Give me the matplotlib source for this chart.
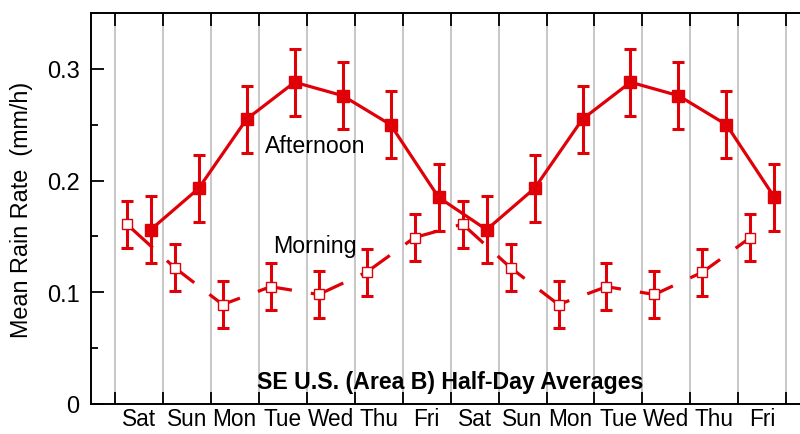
import numpy as np
import matplotlib.pyplot as plt
from matplotlib.ticker import MultipleLocator, FixedLocator

plt.rcParams['font.family'] = ['Liberation Sans', 'DejaVu Sans']

days = ["Sat", "Sun", "Mon", "Tue", "Wed", "Thu", "Fri"]

# half-day means, one week (shown twice)
morning = [0.161, 0.122, 0.089, 0.105, 0.098, 0.118, 0.149]
afternoon = [0.156, 0.193, 0.255, 0.288, 0.276, 0.250, 0.185]
morning_err = [0.021, 0.021, 0.021, 0.021, 0.021, 0.021, 0.021]
afternoon_err = [0.030, 0.030, 0.030, 0.030, 0.030, 0.030, 0.030]

red = '#e00008'
nweeks = 2
ndays = len(days) * nweeks

am = np.tile(morning, nweeks)
pm = np.tile(afternoon, nweeks)
am_err = np.tile(morning_err, nweeks)
pm_err = np.tile(afternoon_err, nweeks)
x_am = np.arange(ndays) + 0.25
x_pm = np.arange(ndays) + 0.75

fig = plt.figure(figsize=(8, 4.35), dpi=100)
ax = fig.add_axes([0.1134, 0.069, 0.8996, 0.8989])

for i in range(ndays + 1):
    ax.axvline(i, color='#b8b8b8', lw=1.1, zorder=0)

# lines
ax.plot(x_pm, pm, color=red, lw=2.3, zorder=2)
ax.plot(x_am, am, color=red, lw=2.3, dashes=(11, 6), zorder=2)

# error bars
ax.errorbar(x_pm, pm, yerr=pm_err, fmt='none', ecolor=red, elinewidth=2.2,
            capsize=4, capthick=2.2, zorder=3)
ax.errorbar(x_am, am, yerr=am_err, fmt='none', ecolor=red, elinewidth=2.2,
            capsize=4, capthick=2.2, zorder=3)

# markers
ax.plot(x_pm, pm, 's', color=red, ms=8, zorder=4)
ax.plot(x_am, am, 's', mfc='white', mec=red, mew=1.0, ms=7, zorder=4)

ax.text(4.17, 0.231, "Afternoon", fontsize=16.7, ha='center', va='center')
ax.text(4.18, 0.1415, "Morning", fontsize=16.7, ha='center', va='center')
ax.text(7.0, 0.02, "SE U.S. (Area B) Half-Day Averages", fontsize=16.7,
        fontweight='bold', ha='center', va='center')

ax.set_xlim(-0.5, ndays + 0.5)
ax.set_ylim(0, 0.35)

ax.xaxis.set_major_locator(FixedLocator(range(ndays + 1)))
ax.xaxis.set_minor_locator(FixedLocator(np.arange(ndays) + 0.5))
ax.set_xticklabels([])
ax.set_xticklabels(days * nweeks, minor=True)
ax.tick_params(axis='x', which='major', direction='in', length=9, width=1.3,
               top=True, bottom=True)
ax.tick_params(axis='x', which='minor', length=0, pad=2.5, labelsize=16.3)

ax.yaxis.set_major_locator(MultipleLocator(0.1))
ax.yaxis.set_minor_locator(MultipleLocator(0.05))
ax.set_yticks([0, 0.1, 0.2, 0.3])
ax.set_yticklabels(["0", "0.1", "0.2", "0.3"])
ax.tick_params(axis='y', which='major', direction='in', length=9, width=1.3,
               labelsize=17, pad=8, right=False)
ax.tick_params(axis='y', which='minor', direction='in', length=5, width=1.3,
               right=False)

ax.set_ylabel("Mean Rain Rate  (mm/h)", fontsize=16.8, labelpad=10)

for s in ['left', 'top', 'bottom']:
    ax.spines[s].set_linewidth(1.4)
ax.spines['right'].set_visible(False)

fig.savefig("out.png", dpi=100)
